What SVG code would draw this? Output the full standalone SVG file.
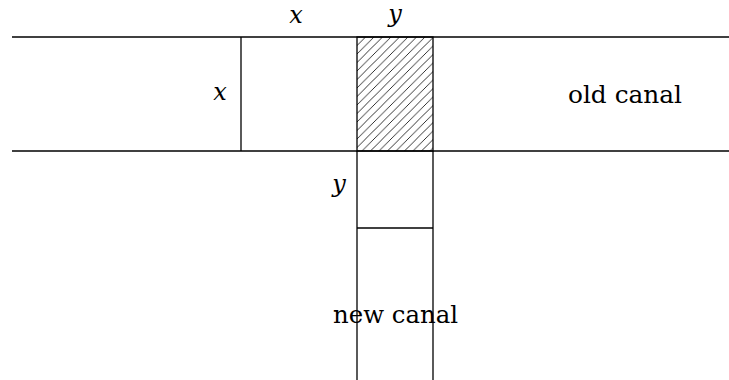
<svg xmlns="http://www.w3.org/2000/svg" width="729" height="380" viewBox="0 0 729 380">
<defs>
<pattern id="hatch" patternUnits="userSpaceOnUse" width="8.5" height="8.5" x="357" y="37">
<path d="M-1,1 L1,-1 M0,8.5 L8.5,0 M7.5,9.5 L9.5,7.5" stroke="#000" stroke-width="0.8"/>
</pattern>
</defs>
<g id="connectors" stroke="#000" stroke-width="1.3" fill="none">
<line x1="12" y1="37" x2="729" y2="37"/>
<line x1="12" y1="151" x2="729" y2="151"/>
<line x1="241" y1="37" x2="241" y2="151"/>
<line x1="357" y1="151" x2="357" y2="380"/>
<line x1="433" y1="151" x2="433" y2="380"/>
<line x1="357" y1="228" x2="433" y2="228"/>
</g>
<g id="hatched">
<rect x="357" y="37" width="76" height="114" fill="url(#hatch)" stroke="#000" stroke-width="1.3"/>
</g>
<g id="labels" fill="#000">
<text font-family="DejaVu Serif" font-size="24" font-style="italic" x="296" y="23" text-anchor="middle">x</text>
<text font-family="DejaVu Serif" font-size="24" font-style="italic" x="395" y="22" text-anchor="middle">y</text>
<text font-family="DejaVu Serif" font-size="24" font-style="italic" x="220" y="100" text-anchor="middle">x</text>
<text font-family="DejaVu Serif" font-size="24" font-style="italic" x="339" y="192" text-anchor="middle">y</text>
<text font-family="DejaVu Serif" font-size="24" x="568" y="103" textLength="114" lengthAdjust="spacingAndGlyphs">old canal</text>
<text font-family="DejaVu Serif" font-size="24" x="333" y="323" textLength="125" lengthAdjust="spacingAndGlyphs">new canal</text>
</g>
</svg>
